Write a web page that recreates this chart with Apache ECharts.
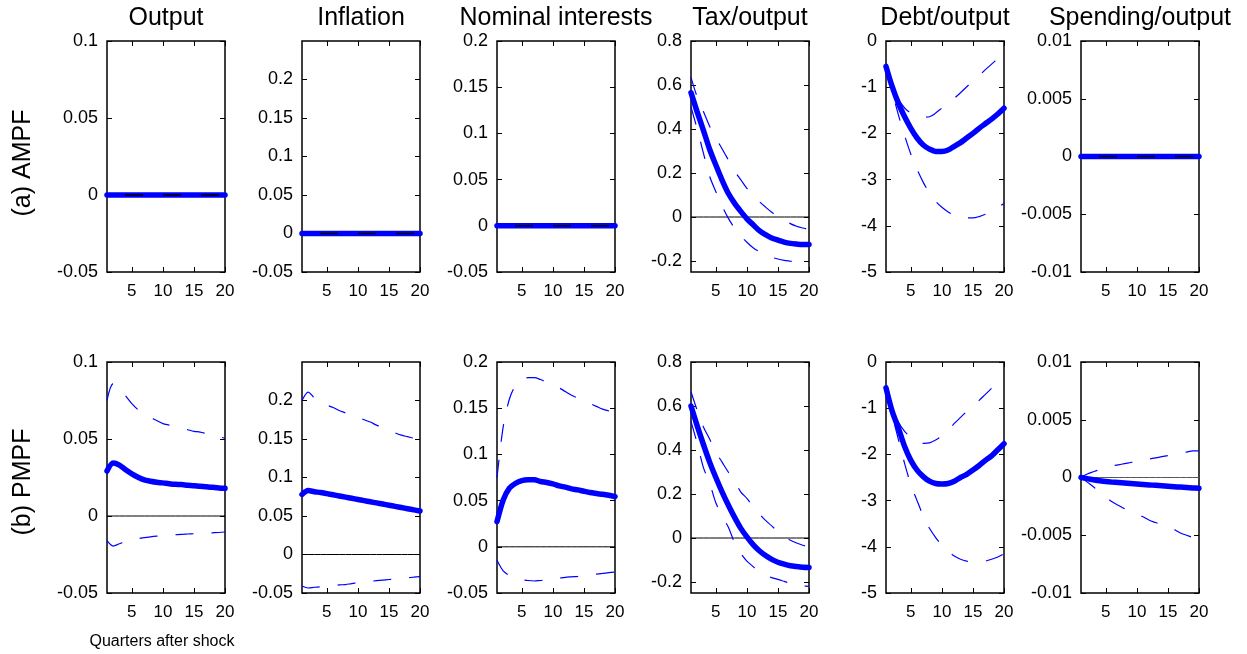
<!DOCTYPE html>
<html><head><meta charset="utf-8">
<script src="https://cdn.jsdelivr.net/npm/echarts@6/dist/echarts.min.js"></script>
<style>html,body{margin:0;padding:0;background:#fff}#c{width:1247px;height:654px}</style>
</head><body><div id="c"></div>
<script>
// ---------------- data ----------------
const quarters = [1,2,3,4,5,6,7,8,9,10,11,12,13,14,15,16,17,18,19,20];
const titles = ['Output','Inflation','Nominal interests','Tax/output','Debt/output','Spending/output'];
const rowLabels = ['(a) AMPF','(b) PMPF'];
const xAxisTitle = 'Quarters after shock';
const xTicks = [5,10,15,20];

const yTicksOutput    = [-0.05,0,0.05,0.1];
const yTicksInflation = [-0.05,0,0.05,0.1,0.15,0.2];
const yTicksNominal   = [-0.05,0,0.05,0.1,0.15,0.2];
const yTicksTax       = [-0.2,0,0.2,0.4,0.6,0.8];
const yTicksDebt      = [-5,-4,-3,-2,-1,0];
const yTicksSpending  = [-0.01,-0.005,0,0.005,0.01];

const yRangeOutput    = [-0.05,0.1];
const yRangeInflation = [-0.05,0.25];
const yRangeNominal   = [-0.05,0.2];
const yRangeTax       = [-0.25,0.8];
const yRangeDebt      = [-5,0];
const yRangeSpending  = [-0.01,0.01];

// (a) AMPF
const outputA_mean   = [0,0,0,0,0,0,0,0,0,0,0,0,0,0,0,0,0,0,0,0];
const outputA_upper  = [0,0,0,0,0,0,0,0,0,0,0,0,0,0,0,0,0,0,0,0];
const outputA_lower  = [0,0,0,0,0,0,0,0,0,0,0,0,0,0,0,0,0,0,0,0];
const inflationA_mean  = [0,0,0,0,0,0,0,0,0,0,0,0,0,0,0,0,0,0,0,0];
const inflationA_upper = [0,0,0,0,0,0,0,0,0,0,0,0,0,0,0,0,0,0,0,0];
const inflationA_lower = [0,0,0,0,0,0,0,0,0,0,0,0,0,0,0,0,0,0,0,0];
const nominalA_mean  = [0,0,0,0,0,0,0,0,0,0,0,0,0,0,0,0,0,0,0,0];
const nominalA_upper = [0,0,0,0,0,0,0,0,0,0,0,0,0,0,0,0,0,0,0,0];
const nominalA_lower = [0,0,0,0,0,0,0,0,0,0,0,0,0,0,0,0,0,0,0,0];
const taxA_mean  = [0.565,0.477,0.394,0.308,0.236,0.168,0.108,0.063,0.026,-0.008,-0.035,-0.062,-0.08,-0.095,-0.105,-0.114,-0.12,-0.123,-0.125,-0.125];
const taxA_upper = [0.635,0.545,0.48,0.413,0.36,0.31,0.26,0.21,0.17,0.13,0.1,0.07,0.045,0.022,0.003,-0.013,-0.03,-0.042,-0.05,-0.057];
const taxA_lower = [0.5,0.4,0.29,0.185,0.115,0.05,-0.005,-0.05,-0.085,-0.115,-0.14,-0.158,-0.172,-0.183,-0.191,-0.197,-0.201,-0.205,-0.207,-0.208];
const debtA_mean  = [-0.55,-0.99,-1.35,-1.64,-1.89,-2.1,-2.25,-2.34,-2.39,-2.39,-2.36,-2.28,-2.2,-2.1,-2.0,-1.89,-1.79,-1.69,-1.58,-1.455];
const debtA_upper = [-0.5,-0.9,-1.25,-1.45,-1.56,-1.62,-1.65,-1.64,-1.56,-1.45,-1.35,-1.24,-1.12,-0.99,-0.87,-0.75,-0.62,-0.5,-0.38,-0.26];
const debtA_lower = [-0.6,-1.1,-1.6,-2.05,-2.45,-2.78,-3.06,-3.29,-3.47,-3.6,-3.7,-3.77,-3.81,-3.83,-3.83,-3.8,-3.75,-3.68,-3.6,-3.52];
const spendingA_mean  = [0,0,0,0,0,0,0,0,0,0,0,0,0,0,0,0,0,0,0,0];
const spendingA_upper = [0,0,0,0,0,0,0,0,0,0,0,0,0,0,0,0,0,0,0,0];
const spendingA_lower = [0,0,0,0,0,0,0,0,0,0,0,0,0,0,0,0,0,0,0,0];

// (b) PMPF
const outputB_mean  = [0.0292,0.0344,0.033,0.030,0.0274,0.0252,0.0235,0.0226,0.0219,0.0215,0.021,0.0206,0.0204,0.02,0.0197,0.0193,0.019,0.0186,0.0182,0.018];
const outputB_upper = [0.075,0.086,0.083,0.078,0.073,0.069,0.066,0.064,0.062,0.06,0.059,0.058,0.057,0.056,0.055,0.0545,0.0535,0.0525,0.0515,0.0505];
const outputB_lower = [-0.016,-0.0195,-0.018,-0.0165,-0.0155,-0.0147,-0.014,-0.0135,-0.0131,-0.0128,-0.0125,-0.0122,-0.0119,-0.0117,-0.0115,-0.0113,-0.0111,-0.0109,-0.0107,-0.0104];
const inflationB_mean  = [0.078,0.083,0.0815,0.0805,0.079,0.0775,0.076,0.0745,0.073,0.0715,0.07,0.0685,0.067,0.0655,0.064,0.0625,0.061,0.0595,0.058,0.0565];
const inflationB_upper = [0.2,0.211,0.203,0.197,0.194,0.191,0.187,0.184,0.181,0.178,0.175,0.172,0.168,0.165,0.162,0.158,0.155,0.153,0.151,0.149];
const inflationB_lower = [-0.041,-0.0435,-0.0425,-0.042,-0.041,-0.0405,-0.0395,-0.039,-0.0378,-0.0368,-0.0358,-0.0348,-0.034,-0.0332,-0.0325,-0.0318,-0.031,-0.0302,-0.0295,-0.0287];
const nominalB_mean  = [0.0272,0.0507,0.0634,0.0688,0.0717,0.0725,0.0725,0.0707,0.0696,0.0681,0.066,0.0645,0.0627,0.0616,0.0601,0.0587,0.0576,0.0569,0.0558,0.0543];
const nominalB_upper = [0.075,0.13,0.16,0.175,0.181,0.183,0.183,0.181,0.178,0.175,0.172,0.168,0.164,0.161,0.158,0.155,0.152,0.149,0.147,0.145];
const nominalB_lower = [-0.0145,-0.026,-0.031,-0.034,-0.0355,-0.0365,-0.037,-0.0365,-0.036,-0.035,-0.034,-0.033,-0.0325,-0.032,-0.031,-0.030,-0.0295,-0.0288,-0.028,-0.0272];
const taxB_mean  = [0.60,0.51,0.425,0.345,0.275,0.21,0.15,0.095,0.045,0.005,-0.03,-0.058,-0.08,-0.097,-0.11,-0.119,-0.126,-0.13,-0.133,-0.134];
const taxB_upper = [0.665,0.58,0.505,0.45,0.39,0.345,0.30,0.26,0.21,0.18,0.143,0.11,0.08,0.055,0.028,0.008,-0.01,-0.023,-0.033,-0.041];
const taxB_lower = [0.53,0.43,0.32,0.25,0.16,0.1,0.05,-0.02,-0.07,-0.105,-0.13,-0.155,-0.17,-0.18,-0.188,-0.197,-0.206,-0.215,-0.218,-0.22];
const debtB_mean  = [-0.56,-1.07,-1.43,-1.83,-2.13,-2.34,-2.48,-2.58,-2.63,-2.64,-2.63,-2.58,-2.5,-2.43,-2.34,-2.24,-2.13,-2.03,-1.9,-1.77];
const debtB_upper = [-0.5,-0.95,-1.3,-1.5,-1.63,-1.72,-1.76,-1.75,-1.69,-1.6,-1.48,-1.33,-1.2,-1.07,-0.95,-0.83,-0.7,-0.57,-0.44,-0.31];
const debtB_lower = [-0.6,-1.15,-1.68,-2.2,-2.65,-3.0,-3.33,-3.6,-3.8,-3.97,-4.1,-4.2,-4.27,-4.31,-4.33,-4.33,-4.31,-4.27,-4.22,-4.15];
const spendingB_mean  = [0,-0.0001,-0.0002,-0.00028,-0.00035,-0.0004,-0.00044,-0.00048,-0.00052,-0.00056,-0.0006,-0.00064,-0.00068,-0.00072,-0.00076,-0.0008,-0.00083,-0.00086,-0.0009,-0.00094];
const spendingB_upper = [0,0.0003,0.0005,0.0007,0.0009,0.001,0.0011,0.0012,0.0013,0.0014,0.0015,0.0016,0.0017,0.0018,0.0019,0.002,0.0021,0.0022,0.0023,0.0023];
const spendingB_lower = [0,-0.0004,-0.0008,-0.0013,-0.0017,-0.0021,-0.0024,-0.0027,-0.003,-0.0032,-0.0034,-0.0037,-0.0039,-0.0041,-0.0043,-0.0045,-0.0048,-0.005,-0.0052,-0.0054];

// ---------------- layout / style ----------------
const FONT = '"Liberation Sans", Arial, sans-serif';
const BLUE = '#0000ff';
const gridLefts = [107, 302, 497, 691, 886, 1081];
const gridTops = [41, 362];
const gridW = 118, gridH = 231;

const yTicksAll = [yTicksOutput, yTicksInflation, yTicksNominal, yTicksTax, yTicksDebt, yTicksSpending];
const yRangeAll = [yRangeOutput, yRangeInflation, yRangeNominal, yRangeTax, yRangeDebt, yRangeSpending];
const rowData = [
  [[outputA_mean,outputA_upper,outputA_lower],[inflationA_mean,inflationA_upper,inflationA_lower],[nominalA_mean,nominalA_upper,nominalA_lower],[taxA_mean,taxA_upper,taxA_lower],[debtA_mean,debtA_upper,debtA_lower],[spendingA_mean,spendingA_upper,spendingA_lower]],
  [[outputB_mean,outputB_upper,outputB_lower],[inflationB_mean,inflationB_upper,inflationB_lower],[nominalB_mean,nominalB_upper,nominalB_lower],[taxB_mean,taxB_upper,taxB_lower],[debtB_mean,debtB_upper,debtB_lower],[spendingB_mean,spendingB_upper,spendingB_lower]]
];
// zero reference line style per panel
const zeroMode = [
  ['dash','dash','dash','solid','none','dash'],
  ['solid','solid','solid','solid','none','grey']
];

const fmt = v => String(parseFloat(Number(v).toPrecision(6)));

const grid = [], xAxis = [], yAxis = [], series = [];
for (let r = 0; r < 2; r++) {
  for (let c = 0; c < 6; c++) {
    const g = r * 6 + c;
    grid.push({left: gridLefts[c], top: gridTops[r], width: gridW, height: gridH,
      show: true, borderColor: '#000', borderWidth: 1.5, backgroundColor: 'transparent'});
    const xBase = {gridIndex: g, type: 'value', min: 1, max: 20,
      axisLine: {show: false, onZero: false}, splitLine: {show: false},
      axisTick: {show: true, inside: true, length: 5, customValues: xTicks, lineStyle: {color: '#000', width: 1}}};
    xAxis.push(Object.assign({}, xBase, {position: 'bottom',
      axisLabel: {show: true, customValues: xTicks, margin: 11, color: '#000', fontSize: 17, fontFamily: FONT, formatter: fmt}}));
    xAxis.push(Object.assign({}, xBase, {position: 'top', axisLabel: {show: false}}));
    const yt = yTicksAll[c], yr = yRangeAll[c];
    const yBase = {gridIndex: g, type: 'value', min: yr[0], max: yr[1], scale: true,
      axisLine: {show: false, onZero: false}, splitLine: {show: false},
      axisTick: {show: true, inside: true, length: 5, customValues: yt, lineStyle: {color: '#000', width: 1}}};
    yAxis.push(Object.assign({}, yBase, {position: 'left',
      axisLabel: {show: true, customValues: yt, margin: 9, color: '#000', fontSize: 18, fontFamily: FONT, formatter: fmt}}));
    yAxis.push(Object.assign({}, yBase, {position: 'right', axisLabel: {show: false}}));

    const [mean, upper, lower] = rowData[r][c];
    const zm = zeroMode[r][c];
    const common = {type: 'line', xAxisIndex: 2 * g, yAxisIndex: 2 * g, showSymbol: false, symbol: 'none', silent: true, animation: false};
    if (zm === 'solid' || zm === 'grey') {
      series.push(Object.assign({}, common, {z: 1, data: quarters.map(q => [q, 0]),
        lineStyle: {color: zm === 'grey' ? '#555' : '#000', width: 1}}));
    }
    series.push(Object.assign({}, common, {z: 2, smooth: 0.3, data: quarters.map((q, i) => [q, upper[i]]),
      lineStyle: {color: BLUE, width: 1.2, type: [18, 18]}}));
    series.push(Object.assign({}, common, {z: 2, smooth: 0.3, data: quarters.map((q, i) => [q, lower[i]]),
      lineStyle: {color: BLUE, width: 1.2, type: [18, 18]}}));
    series.push(Object.assign({}, common, {z: 3, smooth: 0.3, data: quarters.map((q, i) => [q, mean[i]]),
      lineStyle: {color: BLUE, width: 5.5, cap: 'round', join: 'round'}}));
    if (zm === 'dash') {
      series.push(Object.assign({}, common, {z: 4, data: quarters.map(q => [q, 0]),
        lineStyle: {color: '#000', width: 1.5, type: [18, 20], dashOffset: 20}}));
    }
  }
}

const graphic = [];
titles.forEach((t, c) => {
  graphic.push({type: 'text', x: gridLefts[c] + gridW / 2, y: 18,
    style: {text: t, fontSize: 25, fontFamily: FONT, fill: '#000', align: 'center', verticalAlign: 'middle', textAlign: 'center', textVerticalAlign: 'middle'}});
});
const rowCenters = [163, 482];
rowLabels.forEach((t, r) => {
  graphic.push({type: 'text', x: 23, y: rowCenters[r], rotation: Math.PI / 2,
    style: {text: t, fontSize: 25, fontFamily: FONT, fill: '#000', align: 'center', verticalAlign: 'middle', textAlign: 'center', textVerticalAlign: 'middle'}});
});
graphic.push({type: 'text', x: 162, y: 642,
  style: {text: xAxisTitle, fontSize: 16, fontFamily: FONT, fill: '#000', align: 'center', verticalAlign: 'middle', textAlign: 'center', textVerticalAlign: 'middle'}});

const chart = echarts.init(document.getElementById('c'), null, {renderer: 'canvas'});
chart.setOption({animation: false, backgroundColor: '#fff', grid, xAxis, yAxis, series, graphic});
</script></body></html>
